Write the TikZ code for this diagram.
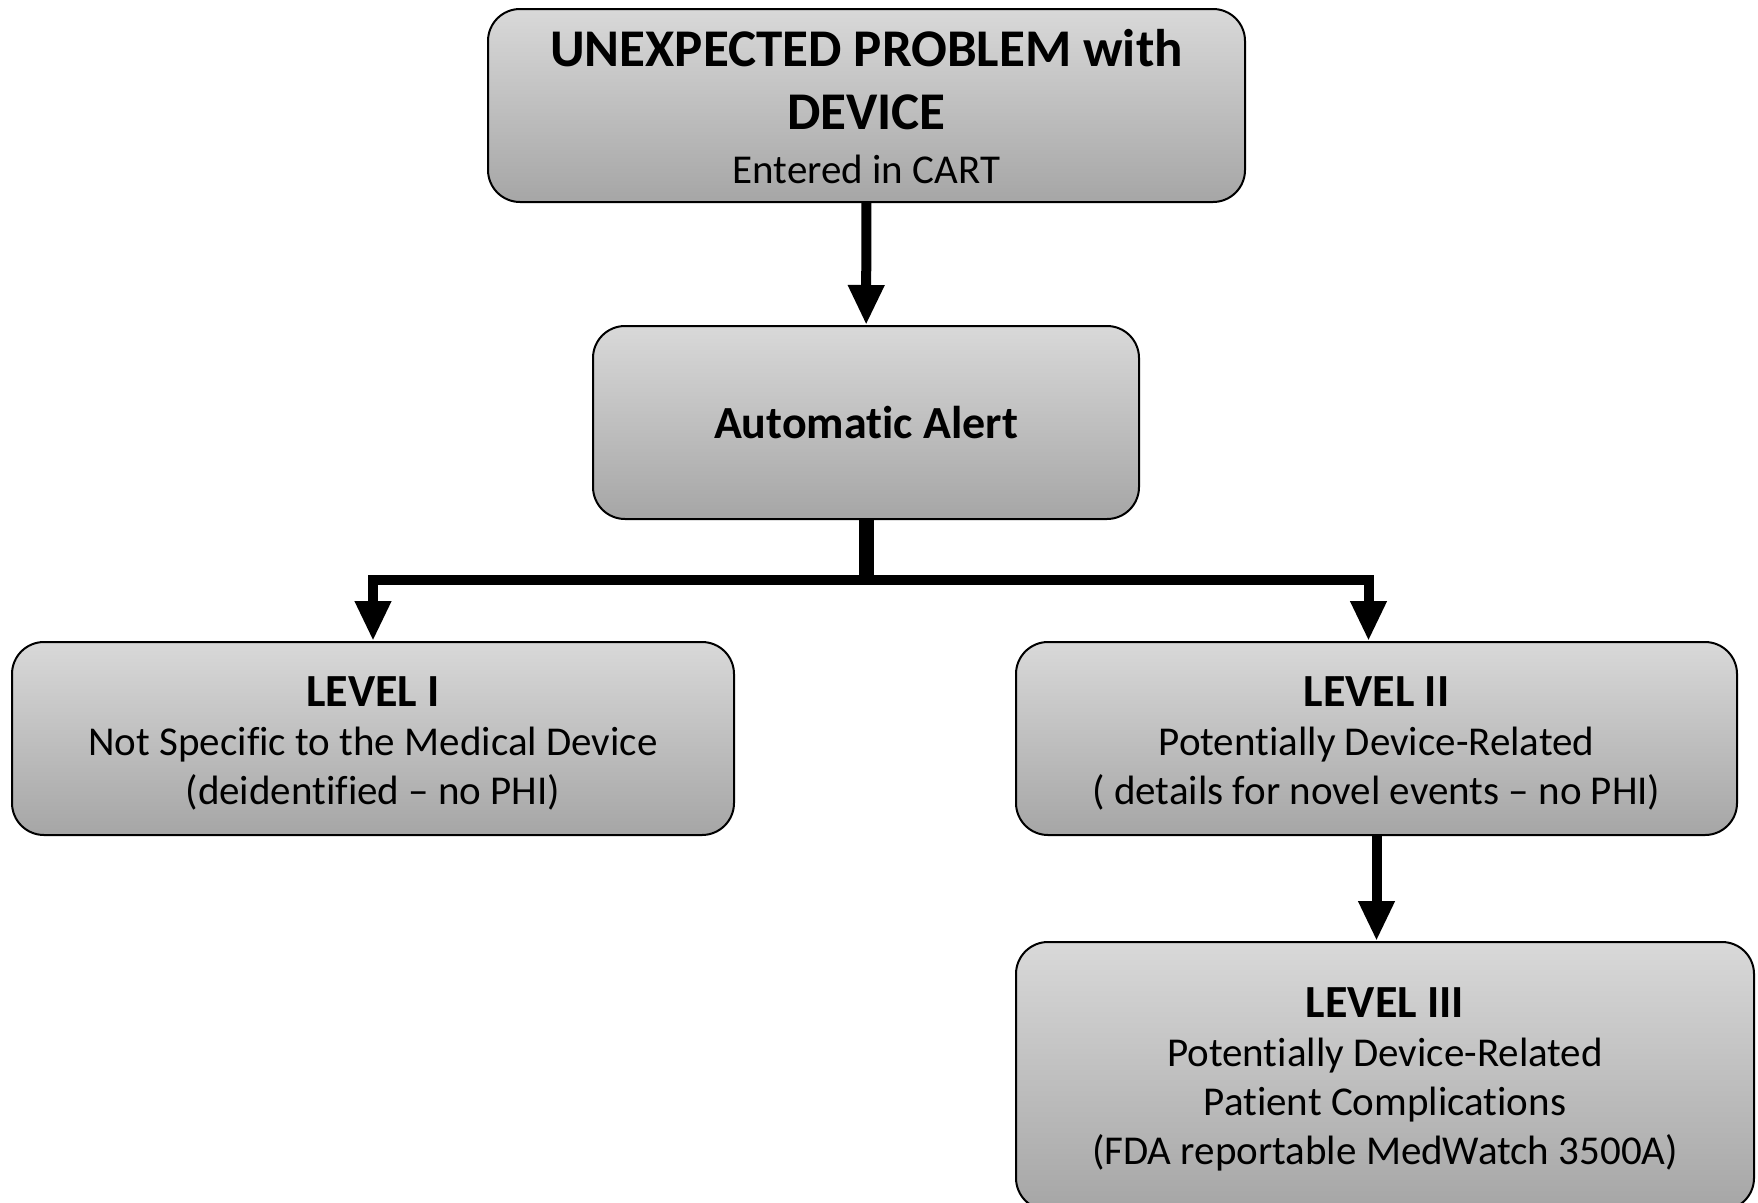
\documentclass[tikz,border=0pt]{standalone}
\usepackage{fontspec}
\setmainfont{Carlito}[RawFeature={-liga;-clig;-dlig}]
\usetikzlibrary{arrows.meta}

\tikzset{
  box/.style={draw, line width=2pt, rounded corners=32pt, top color=black!15, bottom color=black!35,
    align=center, inner sep=0pt, font=\fontsize{41}{49}\selectfont},
  link/.style={line width=10pt, -{Triangle[length=40pt,width=34pt]}},
}
\newcommand{\bighead}[1]{{\fontsize{53}{63}\selectfont\bfseries #1}}
\newcommand{\boxhead}[1]{{\fontsize{46}{50}\selectfont\bfseries #1}}
\newcommand{\pad}[1]{\rule{0pt}{#1pt}}

\begin{document}
\begin{tikzpicture}[x=1pt, y=-1pt]
\useasboundingbox (0,0) rectangle (1758,1202);
\clip (0,0) rectangle (1758,1202);
\node[box, minimum width=757pt, minimum height=193pt] (problem) at (866.5,105.5)
  {\pad{39}\bighead{UNEXPECTED PROBLEM with}\\[14pt] \bighead{DEVICE}\\[5pt] Entered in CART};
\node[box, minimum width=546pt, minimum height=193pt] (alert) at (866,422.5)
  {\boxhead{Automatic Alert}};
\node[box, minimum width=722pt, minimum height=193pt] (lvlone) at (373,738.5)
  {\pad{40}\boxhead{LEVEL I}\\ Not Specific to the Medical Device\\ (deidentified – no PHI)};
\node[box, minimum width=721pt, minimum height=193pt] (lvltwo) at (1376.5,738.5)
  {\pad{40}\boxhead{LEVEL II}\\ Potentially Device-Related\\ ( details for novel events – no PHI)};
\node[box, minimum width=738pt, minimum height=268pt] (lvlthree) at (1385,1076)
  {\pad{36}\boxhead{LEVEL III}\\ Potentially Device-Related\\ Patient Complications\\ (FDA reportable MedWatch 3500A)};
\coordinate (split) at (866,580);

\draw[link] (problem) -- (alert);
\draw[line width=15pt] (alert.south) -- ([yshift=-5pt]split);
\draw[link] (split) -| (lvlone.north);
\draw[link] (split) -| ([xshift=-8pt]lvltwo.north);
\draw[link] (lvltwo.south) -- (lvltwo.south |- lvlthree.north);
\end{tikzpicture}
\end{document}
